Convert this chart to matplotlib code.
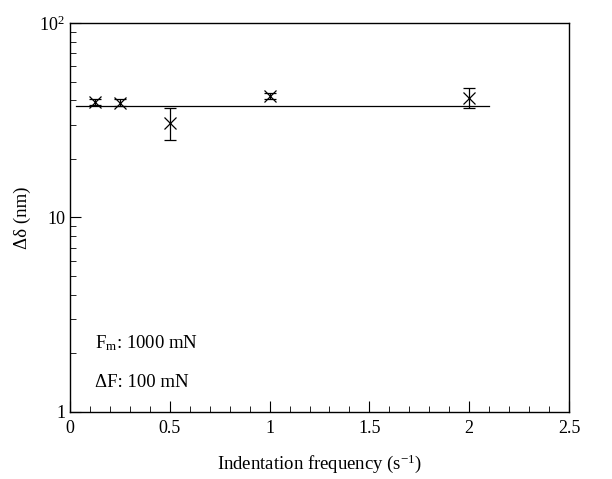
import numpy as np
import matplotlib
matplotlib.use('Agg')
import matplotlib.pyplot as plt
from matplotlib.ticker import FixedLocator, FuncFormatter, MultipleLocator, LogLocator, NullFormatter

plt.rcParams['font.family'] = ['Liberation Serif', 'DejaVu Serif']
plt.rcParams['mathtext.fontset'] = 'custom'
plt.rcParams['mathtext.rm'] = 'Liberation Serif'
plt.rcParams['mathtext.it'] = 'Liberation Serif:italic'

# data
freq = [0.125, 0.25, 0.5, 1.0, 2.0]
delta = [39.4, 39.0, 30.5, 42.3, 41.3]
err_lo = [1.5, 1.5, 5.5, 1.5, 4.9]
err_hi = [1.5, 1.5, 5.9, 1.5, 5.2]
mean_x = [0.03, 2.1]
mean_y = 37.6

fig = plt.figure(figsize=(6.12, 4.79), dpi=100)
ax = fig.add_axes([0.1144, 0.1399, 0.8153, 0.8121])

ax.errorbar(freq, delta, yerr=[err_lo, err_hi], fmt='x', color='black',
            markersize=9, mew=0.9, elinewidth=0.9, capsize=4, capthick=0.9)
ax.plot(mean_x, [mean_y, mean_y], color='black', lw=0.9)

ax.set_yscale('log')
ax.set_xlim(0, 2.5)
ax.set_ylim(1, 100)

ax.xaxis.set_major_locator(MultipleLocator(0.5))
ax.xaxis.set_minor_locator(MultipleLocator(0.1))
ax.xaxis.set_major_formatter(FuncFormatter(lambda v, p: '%g' % v))
ax.yaxis.set_major_locator(FixedLocator([1, 10, 100]))
ax.yaxis.set_minor_locator(LogLocator(base=10, subs=np.arange(2, 10)))
ax.yaxis.set_minor_formatter(NullFormatter())
ax.yaxis.set_major_formatter(FuncFormatter(lambda v, p: {1: '1', 10: '10', 100: '10$^{2}$'}[round(v)]))

ax.tick_params(which='both', direction='in', top=False, right=False, labelsize=13)
ax.tick_params(which='major', length=8, width=0.8)
ax.tick_params(which='minor', length=4, width=0.6)
ax.tick_params(axis='x', pad=6)
for s in ax.spines.values():
    s.set_linewidth(1.0)

ax.set_xlabel('Indentation frequency (s$^{-1}$)', fontsize=13.5, labelpad=11)
ax.set_ylabel('\u0394\u03b4 (nm)', fontsize=13.5, labelpad=6)

ax.text(0.05, 0.165, 'F$_{\\rm m}$: 1000 mN', transform=ax.transAxes, fontsize=13.5)
ax.text(0.05, 0.063, '\u0394F: 100 mN', transform=ax.transAxes, fontsize=13.5)

fig.savefig('out.png', dpi=100)
